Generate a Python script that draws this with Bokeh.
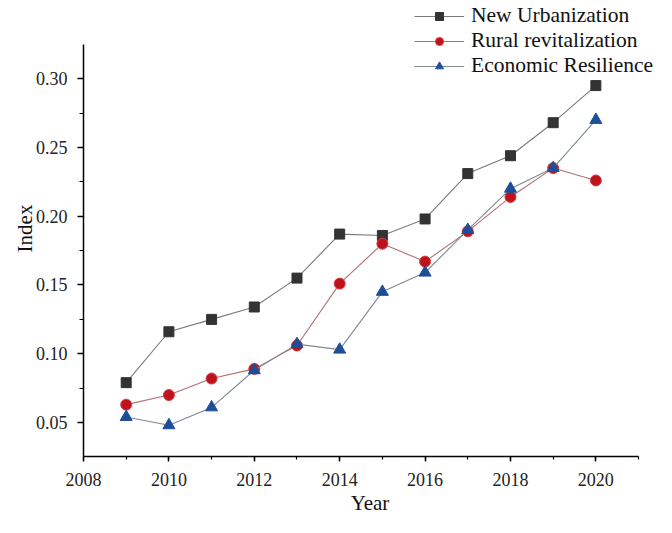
from bokeh.plotting import figure
from bokeh.models import (Range1d, SingleIntervalTicker, PrintfTickFormatter,
                          Legend, LegendItem)
from bokeh.embed import file_html
from bokeh.resources import INLINE

years = [2009, 2010, 2011, 2012, 2013, 2014, 2015, 2016, 2017, 2018, 2019, 2020]
new_urbanization = [0.079, 0.116, 0.125, 0.134, 0.155, 0.187, 0.186, 0.198, 0.231, 0.244, 0.268, 0.295]
rural_revitalization = [0.063, 0.070, 0.082, 0.089, 0.106, 0.151, 0.180, 0.167, 0.189, 0.214, 0.235, 0.226]
economic_resilience = [0.054, 0.048, 0.061, 0.088, 0.107, 0.103, 0.145, 0.159, 0.190, 0.220, 0.235, 0.270]

FONT = "Liberation Serif"

p = figure(width=656, height=517, output_backend="svg", toolbar_location=None,
           x_range=Range1d(2008, 2021.42), y_range=Range1d(0.0253, 0.35685),
           min_border_left=83, min_border_right=0, min_border_top=0, min_border_bottom=59)
p.outline_line_color = None
p.xgrid.visible = False
p.ygrid.visible = False
p.background_fill_color = "white"
p.border_fill_color = "white"

# series
l1 = p.line(years, new_urbanization, line_color="#7a7a7a", line_width=1.1)
s1 = p.scatter(years, new_urbanization, marker="square", size=10,
               fill_color="#333333", line_color="#333333")
l2 = p.line(years, rural_revitalization, line_color="#b07070", line_width=1.1)
s2 = p.scatter(years, rural_revitalization, marker="circle", size=11,
               fill_color="#c0121c", line_color="#d04040")
l3 = p.line(years, economic_resilience, line_color="#7f8896", line_width=1.1)
s3 = p.scatter(years, economic_resilience, marker="triangle", size=12,
               fill_color="#1d4f99", line_color="#1d4f99")

# axes
for ax in (p.xaxis[0], p.yaxis[0]):
    ax.axis_line_color = "black"
    ax.axis_line_width = 1.5
    ax.major_tick_line_color = "black"
    ax.minor_tick_line_color = "black"
    ax.major_tick_line_width = 1.5
    ax.minor_tick_line_width = 1.2
    ax.major_tick_in = 0
    ax.minor_tick_in = 0
    ax.major_label_text_font = FONT
    ax.major_label_text_font_size = "18px"
    ax.major_label_text_color = "#222222"
    ax.axis_label_text_font = FONT
    ax.axis_label_text_font_size = "21px"
    ax.axis_label_text_font_style = "normal"
    ax.axis_label_text_color = "#111111"

p.xaxis.ticker = SingleIntervalTicker(interval=2, num_minor_ticks=2)
p.xaxis.formatter = PrintfTickFormatter(format="%d")
p.xaxis.bounds = (2008, 2021)
p.xaxis.major_tick_out = 5
p.xaxis.minor_tick_out = 3
p.xaxis.axis_label = "Year"
p.xaxis.major_label_standoff = 11
p.xaxis.axis_label_standoff = 2

p.yaxis.ticker = SingleIntervalTicker(interval=0.05, num_minor_ticks=2)
p.yaxis.formatter = PrintfTickFormatter(format="%.2f")
p.yaxis.bounds = (0.0253, 0.325)
p.yaxis.major_tick_out = 6
p.yaxis.minor_tick_out = 4
p.yaxis.axis_label = "Index"
p.yaxis.major_label_standoff = 10
p.yaxis.axis_label_standoff = -4

legend = Legend(items=[
    LegendItem(label="New Urbanization", renderers=[l1, s1]),
    LegendItem(label="Rural revitalization", renderers=[l2, s2]),
    LegendItem(label="Economic Resilience", renderers=[l3, s3]),
], location=(331, 378))
legend.border_line_color = None
legend.background_fill_alpha = 0
legend.label_text_font = FONT
legend.label_text_font_size = "21.5px"
legend.label_text_color = "#111111"
legend.glyph_width = 50
legend.glyph_height = 20
legend.label_height = 20
legend.label_standoff = 7
legend.padding = 0
legend.margin = 0
legend.spacing = 0
p.add_layout(legend, "center")

open("out.html", "w").write(file_html(p, INLINE))
